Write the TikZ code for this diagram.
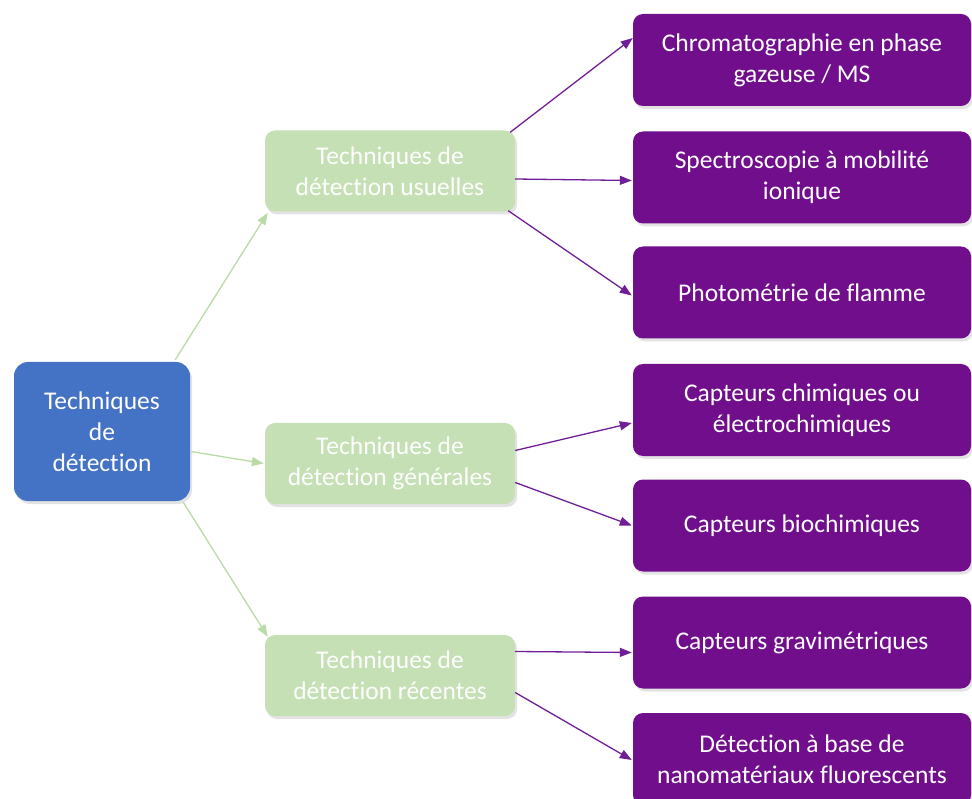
\documentclass[tikz,border=0pt]{standalone}
\usepackage{fontspec}
\setmainfont{Carlito}[Ligatures=NoCommon]
\usetikzlibrary{arrows.meta,shadows,calc}
\definecolor{bluebox}{RGB}{68,114,196}
\definecolor{greenbox}{RGB}{197,224,180}
\definecolor{purplebox}{RGB}{112,14,140}
\definecolor{greenline}{RGB}{186,218,166}
\definecolor{purpleline}{RGB}{112,30,150}
\tikzset{
  box/.style={rounded corners=14pt, text=white, align=center, inner sep=0pt,
    font=\fontsize{25.5}{31}\selectfont,
    drop shadow={opacity=0.22, shadow xshift=2pt, shadow yshift=-3pt}},
  rootbox/.style={box, fill=bluebox, minimum width=176pt, minimum height=139pt},
  midbox/.style={box, fill=greenbox, minimum width=250pt, minimum height=81pt, rounded corners=10pt},
  leafbox/.style={box, fill=purplebox, minimum width=338pt, minimum height=92pt, rounded corners=10pt},
  garrow/.style={draw=greenline, line width=1.3pt, -{Triangle[length=12pt,width=9pt,fill=greenline]}},
  parrow/.style={draw=purpleline, line width=1.3pt, -{Triangle[length=12pt,width=9pt,fill=purpleline]}}
}
\begin{document}
\begin{tikzpicture}[x=1pt,y=-1pt]
\useasboundingbox (0,0) rectangle (972,799);
\node[rootbox] (b) at (102,431.5) {Techniques\\de\\détection};
\node[midbox] (u) at (390,171) {Techniques de\\détection usuelles};
\node[midbox] (g) at (390,463.5) {Techniques de\\détection générales};
\node[midbox] (r) at (390,675.5) {Techniques de\\détection récentes};
\node[leafbox] (p1) at (802,60) {Chromatographie en phase\\gazeuse / MS};
\node[leafbox] (p2) at (802,177.5) {Spectroscopie à mobilité\\ionique};
\node[leafbox] (p3) at (802,292.5) {Photométrie de flamme};
\node[leafbox] (p4) at (802,410) {Capteurs chimiques ou\\électrochimiques};
\node[leafbox] (p5) at (802,525.5) {Capteurs biochimiques};
\node[leafbox] (p6) at (802,642.5) {Capteurs gravimétriques};
\node[leafbox] (p7) at (802,759) {Détection à base de\\nanomatériaux fluorescents};
% root to middle
\draw[garrow] ($(b.north east)+(-15,-2)$) -- ($(u.south west)+(3,1)$);
\draw[garrow] ($(b.east)+(1,20)$) -- ($(g.west)+(-1,0)$);
\draw[garrow] ($(b.south east)+(-7,1)$) -- ($(r.north west)+(3,2)$);
% middle to leaves
\draw[parrow] ($(u.north east)+(-5,2)$) -- ($(p1.west)+(0,-22)$);
\draw[parrow] ($(u.east)+(0,8)$) -- ($(p2.west)+(-1,3)$);
\draw[parrow] ($(u.south east)+(-7,-1)$) -- ($(p3.west)+(-1,3)$);
\draw[parrow] ($(g.east)+(0,-13)$) -- ($(p4.west)+(-1,13)$);
\draw[parrow] ($(g.east)+(0,19)$) -- ($(p5.west)+(-1,0)$);
\draw[parrow] ($(r.east)+(0,-24)$) -- ($(p6.west)+(-1,10)$);
\draw[parrow] ($(r.east)+(0,17)$) -- ($(p7.west)+(-1,1)$);
\end{tikzpicture}
\end{document}
